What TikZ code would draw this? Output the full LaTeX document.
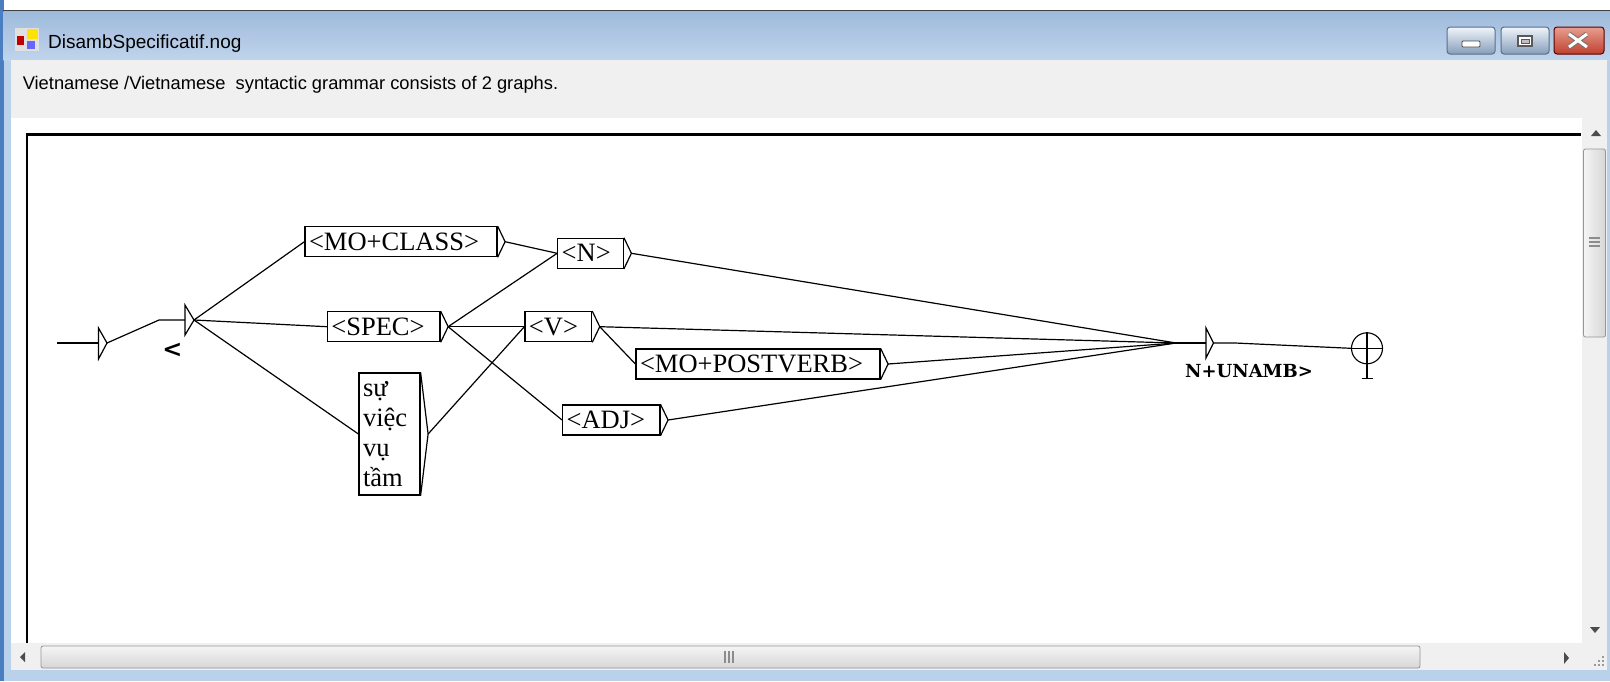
\documentclass[tikz,border=0pt]{standalone}
\usepackage{fontspec}
\setmainfont{Liberation Serif}
\newfontfamily\uifont{Liberation Sans}
\newfontfamily\lblfont{DejaVu Serif}
\definecolor{deskblue}{RGB}{74,126,192}
\definecolor{frameblue}{RGB}{185,209,234}
\definecolor{titletop}{RGB}{158,186,219}
\definecolor{titlebot}{RGB}{192,212,236}
\definecolor{panelgray}{RGB}{240,240,240}
\definecolor{btnborder}{RGB}{90,110,140}
\definecolor{closetop}{RGB}{232,158,144}
\definecolor{closebot}{RGB}{192,64,46}
\definecolor{barborder}{RGB}{150,150,150}

\begin{document}
\begin{tikzpicture}
[
x=1pt, y=-1pt,
unit/.style={rectangle, draw=black, line width=1.2pt, inner xsep=4pt, inner ysep=0pt, minimum height=30pt, align=left, font=\fontsize{26.5}{30}\selectfont},
tr/.style={line width=1.2pt},
lbl/.style={font=\lblfont\bfseries\fontsize{18}{20}\selectfont, inner sep=0pt},
uitext/.style={anchor=base west, inner sep=0pt},
winbtn/.style={draw=btnborder, line width=1pt, rounded corners=3pt, top color=white!75!titlebot, bottom color=titletop!85!black},
thumb/.style={draw=barborder, line width=0.8pt, rounded corners=2pt},
]
%
\useasboundingbox (0,0) rectangle (1610,681);
\fill [white] (0,0) rectangle (1610,681);
\fill [frameblue] (3,11) rectangle (1610,681);
\fill [deskblue] (0,0) rectangle (3.5,681);
\shade [top color=titletop, bottom color=titlebot] (3.5,11) rectangle (1610,60);
\draw [line width=1.3pt, black!75] (3,10.5) -- (1610,10.5);
\fill [panelgray] (11,60) rectangle (1607,670);
\fill [white] (11,118) rectangle (1582,643);

% title bar
\fill [black!12] (15,28) rectangle (39,51);
\fill [red!75!black] (17,36) rectangle (24,45);
\fill [yellow!85!orange] (27,29) rectangle (38,39);
\fill [blue!60] (27,41) rectangle (35,49);
\node [uitext, font=\uifont\fontsize{19}{22}\selectfont] (title) at (48,48) {DisambSpecificatif.nog};
\node [uitext, font=\uifont\fontsize{18.3}{22}\selectfont] (status) at (22.6,89) {Vietnamese /Vietnamese~ syntactic grammar consists of 2 graphs.};

\draw [winbtn] (1447,27) rectangle (1495,54);
\draw [winbtn] (1501,27) rectangle (1549,54);
\draw [draw=red!35!black, line width=1pt, rounded corners=3pt, top color=closetop, bottom color=closebot] (1554,27) rectangle (1604,54);
\draw [fill=white, draw=black!70, line width=0.8pt, rounded corners=1pt] (1462,41) rectangle (1480,47);
\draw [fill=white, draw=black!65, line width=1.2pt] (1518,36) rectangle (1532,46);
\draw [fill=black!25, draw=black!65, line width=0.6pt] (1521,39.5) rectangle (1529,43);
\draw [black!55, line width=5pt] (1569,34) -- (1587,47) (1569,47) -- (1587,34);
\draw [white, line width=3pt] (1569,34) -- (1587,47) (1569,47) -- (1587,34);

% scroll bars
\draw [thumb, left color=white!96!black, right color=black!16] (1583.5,149) rectangle (1605.5,337);
\foreach \gy in {238,242,246}
  \draw [black!45, line width=1.2pt] (1589,\gy) -- (1600,\gy);
\fill [black!70] (1591,136) -- (1601,136) -- (1596,130) -- cycle;
\fill [black!70] (1590,627) -- (1600,627) -- (1595,633) -- cycle;
\draw [thumb, top color=white!96!black, bottom color=black!16] (41,646) rectangle (1420,668);
\foreach \gx in {725,729,733}
  \draw [black!45, line width=1.2pt] (\gx,651) -- (\gx,663);
\fill [black!70] (25,652) -- (25,662) -- (20,657) -- cycle;
\fill [black!70] (1564,652) -- (1564,664) -- (1569,658) -- cycle;
\foreach \p in {(1602,656),(1602,660),(1598,660),(1602,664),(1598,664),(1594,664)}
  \fill [black!40] \p rectangle ++(1.6,1.6);

% graph frame
\draw [line width=3pt] (26,134.5) -- (1581,134.5);
\draw [line width=2.5pt] (27,133) -- (27,643);

% initial state
\coordinate (A0) at (57,343);
\coordinate (S0) at (98.5,343);
\coordinate (S0-t) at (107,343);
\draw [line width=2.5pt] (A0) -- (73,343);
\draw [tr] (A0) -- (S0);
\draw [tr] (98.5,328) -- (98.5,359) -- (S0-t) -- cycle;
%
\coordinate (S1) at (185,320);
\coordinate (S1-t) at (194,320);
\draw [tr] (S0-t) -- (159,320) -- (S1);
\draw [tr] (185,305) -- (185,335) -- (S1-t) -- cycle;
\node [lbl, font=\lblfont\bfseries\fontsize{24}{26}\selectfont] (out1) at (172.5,350.5) {<};

% boxes
\node [unit, text width=184pt] (MC) at (401,241.7) {<MO+CLASS>};
\node [unit, text width=104.7pt] (SPEC) at (383.7,326.7) {<SPEC>};
\node [unit, text width=53pt, minimum height=122pt] (SU) at (389.5,434) {sự\\việc\\vụ\\tầm};
\node [unit, text width=57.6pt] (N) at (590.5,253.3) {<N>};
\node [unit, text width=58.7pt] (V) at (558.3,326.7) {<V>};
\node [unit, text width=89.3pt] (ADJ) at (611.3,420) {<ADJ>};
\node [unit, text width=236pt] (MPV) at (758,364) {<MO+POSTVERB>};
%
\foreach \b in {MC,SPEC,SU,N,V,ADJ,MPV}
  \draw [tr] (\b.north east) -- ([xshift=7.5pt]\b.east) coordinate (\b-t) -- (\b.south east);

% final
\coordinate (F-in) at (1176,343);
\coordinate (F) at (1206,343);
\coordinate (F-t) at (1213.5,343);
\draw [tr] (1206,328) -- (1206,358) -- (F-t) -- cycle;
\node [lbl] (out2) at (1249,371) {N+UNAMB>};
\node [circle, draw, line width=1.1pt, minimum size=31pt, inner sep=0pt] (END) at (1367,348.3) {};
\draw [tr] (END.north) -- (END.south) -- ++(0,14);
\draw [tr] (END.west) -- (END.east);
\draw [tr] (1361.5,378.3) -- (1372.5,378.3);

% transitions
\draw [tr] (S1-t) -- (MC.west);
\draw [tr] (S1-t) -- (SPEC.west);
\draw [tr] (S1-t) -- (SU.west);
\draw [tr] (MC-t) -- (N.west);
\draw [tr] (SPEC-t) -- (N.west);
\draw [tr] (SPEC-t) -- (V.west);
\draw [tr] (SPEC-t) -- (ADJ.west);
\draw [tr] (SU-t) -- (V.west);
\draw [tr] (V-t) -- (MPV.west);
\foreach \b in {N,V,MPV,ADJ}
  \draw [tr] (\b-t) -- (F-in);
\draw [tr] (F-in) -- (F);
\draw [tr] (F-t) -- (1235,343) -- (END.west);
%
\end{tikzpicture}
\end{document}
